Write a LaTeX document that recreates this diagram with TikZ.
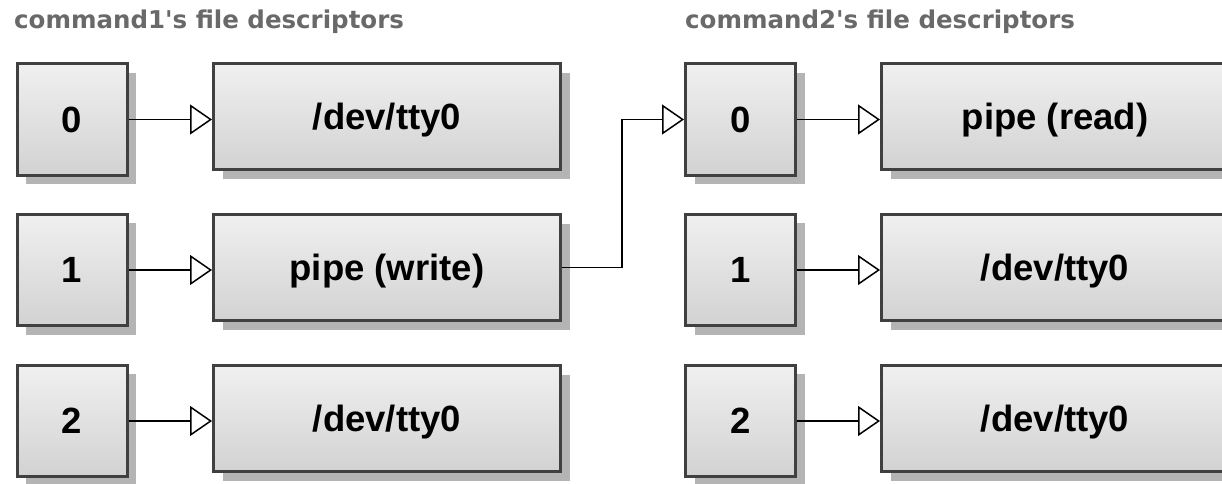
\documentclass[tikz,border=0pt]{standalone}
\usepackage{fontspec}
\setmainfont{Liberation Sans}
\newfontfamily\titlefont{DejaVu Sans}[Ligatures=TeXOff]
\usetikzlibrary{arrows.meta,shadows}
\definecolor{boxborder}{HTML}{404040}
\definecolor{boxtop}{HTML}{F0F0F0}
\definecolor{boxbot}{HTML}{D2D2D2}
\definecolor{shadowgray}{HTML}{B4B4B4}
\definecolor{titlegray}{HTML}{696969}
\begin{document}
\begin{tikzpicture}[x=1pt,y=-1pt,
  box/.style={draw=boxborder, line width=3pt, top color=boxtop, bottom color=boxbot,
    inner sep=0pt,
    drop shadow={shadow xshift=9pt, shadow yshift=-9pt, fill=shadowgray, opacity=1},
    font=\bfseries\fontsize{36.5}{40}\selectfont, text height=25.8pt, text depth=0pt},
  fdbox/.style={box, minimum width=110pt, minimum height=111.5pt},
  filebox/.style={box, minimum width=347pt, minimum height=106pt},
  arr/.style={line width=1.5pt, -{Triangle[open, length=22pt, width=30pt, line width=1.5pt]}},
  title/.style={anchor=base west, inner sep=0pt, text=titlegray,
    font=\titlefont\bfseries\fontsize{24.5}{28}\selectfont}]
\clip (0,0) rectangle (1222,483);
% titles
\node[title] (t1) at (14,28.3) {command1's file descriptors};
\node[title] (t2) at (685,28.3) {command2's file descriptors};
% command1
\node[fdbox] (a0) at (72,119.5) {0};
\node[fdbox] (a1) at (72,270) {1};
\node[fdbox] (a2) at (72,421) {2};
\node[filebox] (f0) at (387,116.8) {/dev/tty0};
\node[filebox] (f1) at (387,267.5) {pipe (write)};
\node[filebox] (f2) at (387,418.8) {/dev/tty0};
% command2
\node[fdbox] (b0) at (740.5,119.5) {0};
\node[fdbox] (b1) at (740.5,270) {1};
\node[fdbox] (b2) at (740.5,421) {2};
\node[filebox] (g0) at (1055,116.8) {pipe (read)};
\node[filebox] (g1) at (1055,267.5) {/dev/tty0};
\node[filebox] (g2) at (1055,418.8) {/dev/tty0};
% connectors
\draw[arr] (a0.east) -- (a0.east -| f0.west);
\draw[arr] (a1.east) -- (a1.east -| f1.west);
\draw[arr] (a2.east) -- (a2.east -| f2.west);
\draw[arr] (b0.east) -- (b0.east -| g0.west);
\draw[arr] (b1.east) -- (b1.east -| g1.west);
\draw[arr] (b2.east) -- (b2.east -| g2.west);
\draw[arr] (f1.east) -- ++(60,0) |- (b0.west);
\end{tikzpicture}
\end{document}
